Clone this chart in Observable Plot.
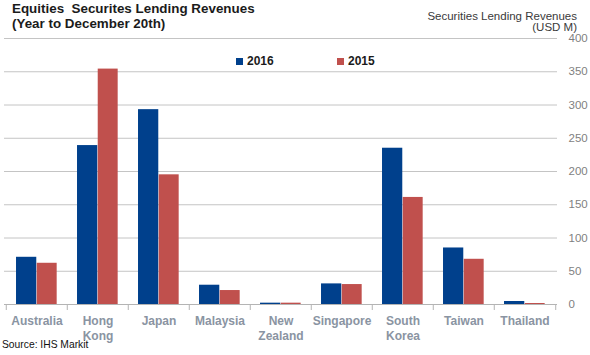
<!DOCTYPE html>
<html>
<head>
<meta charset="utf-8">
<script src="https://cdn.jsdelivr.net/npm/d3@7"></script>
<script src="https://cdn.jsdelivr.net/npm/@observablehq/plot@0.6"></script>
<style>
  body { margin: 0; background: #fff; }
  #wrap { position: relative; width: 590px; height: 355px; overflow: hidden; font-family: "Liberation Sans", Arial, sans-serif; }
  #chart { position: absolute; left: 0; top: 0; }
  .title { position: absolute; left: 12px; top: 1.2px; font-size: 13.4px; font-weight: bold; line-height: 15px; color: #1b1b1b; white-space: pre; }
  .ylab { position: absolute; right: 13px; top: 10.7px; font-size: 11.5px; line-height: 11px; text-align: right; color: #3a3a3a; }
  .legend { position: absolute; top: 55px; font-size: 12px; font-weight: bold; line-height: 12px; color: #1b1b1b; }
  .legend i { display: inline-block; width: 7px; height: 7px; margin-right: 4px; vertical-align: 0px; }
  .source { position: absolute; left: 2px; top: 338.6px; font-size: 10.3px; line-height: 12px; color: #111; }
</style>
</head>
<body>
<div id="wrap">
  <div id="chart"></div>
  <div class="title">Equities  Securites Lending Revenues<br>(Year to December 20th)</div>
  <div class="ylab">Securities Lending Revenues<br>(USD M)</div>
  <div id="legend"></div>
  <div class="source">Source: IHS Markit</div>
</div>
<script>
const categories = ["Australia", "Hong Kong", "Japan", "Malaysia", "New Zealand", "Singapore", "South Korea", "Taiwan", "Thailand"];
const tickLabels = ["Australia", "Hong\nKong", "Japan", "Malaysia", "New\nZealand", "Singapore", "South\nKorea", "Taiwan", "Thailand"];
const rev2016 = [71, 239, 293, 29, 2, 31, 235, 85, 4.5];
const rev2015 = [62, 354, 195, 21, 2, 30, 161, 68, 1.5];
const years = ["2016", "2015"];
const yearColors = ["#00408c", "#c0504d"];
const yTicks = [0, 50, 100, 150, 200, 250, 300, 350, 400];

const d2016 = categories.map((c, i) => ({country: c, year: "2016", value: rev2016[i]}));
const d2015 = categories.map((c, i) => ({country: c, year: "2015", value: rev2015[i]}));
const labelOf = new Map(categories.map((c, i) => [c, tickLabels[i]]));

const W = 590, H = 355, mL = 4, mR = 33;
const step = (W - mL - mR) / categories.length;

const chart = Plot.plot({
  width: W,
  height: H,
  marginTop: 38,
  marginBottom: 51,
  marginLeft: mL,
  marginRight: mR,
  style: {fontFamily: "Liberation Sans, Arial, sans-serif", background: "transparent"},
  x: {domain: categories, padding: 0, axis: null, label: null},
  y: {domain: [0, 400], axis: null, label: null},
  color: {domain: years, range: yearColors},
  marks: [
    Plot.ruleY(yTicks.slice(1), {stroke: "#c4c4c4", strokeWidth: 1}),
    Plot.barY(d2016, {x: "country", y: "value", fill: "year", insetLeft: step * 0.163, insetRight: step * 0.5}),
    Plot.barY(d2015, {x: "country", y: "value", fill: "year", insetLeft: step * 0.5, insetRight: step * 0.168}),
    Plot.ruleY([0], {stroke: "#b4b4b4", strokeWidth: 1}),
    Plot.ruleX(categories, {x: d => d, y1: 0, y2: 0, insetBottom: -6, dx: -step / 2, stroke: "#b4b4b4"}),
    Plot.ruleX(categories.slice(-1), {x: d => d, y1: 0, y2: 0, insetBottom: -6, dx: step / 2, stroke: "#b4b4b4"}),
    Plot.axisX({anchor: "bottom", label: null, tickSize: 0, tickPadding: 10, fontSize: 12, fontWeight: "bold", fill: "#8a94a2", lineHeight: 1.22, tickFormat: d => labelOf.get(d)}),
    Plot.axisY({ticks: yTicks, anchor: "right", label: null, tickSize: 0, tickPadding: 11, fontSize: 11.5, fill: "#7f7f7f"})
  ]
});
document.getElementById("chart").appendChild(chart);

const legend = document.getElementById("legend");
const legendLeft = [236, 337];
years.forEach((y, i) => {
  const el = document.createElement("div");
  el.className = "legend";
  el.style.left = legendLeft[i] + "px";
  el.innerHTML = `<i style="background:${yearColors[i]}"></i>${y}`;
  legend.appendChild(el);
});
</script>
</body>
</html>
